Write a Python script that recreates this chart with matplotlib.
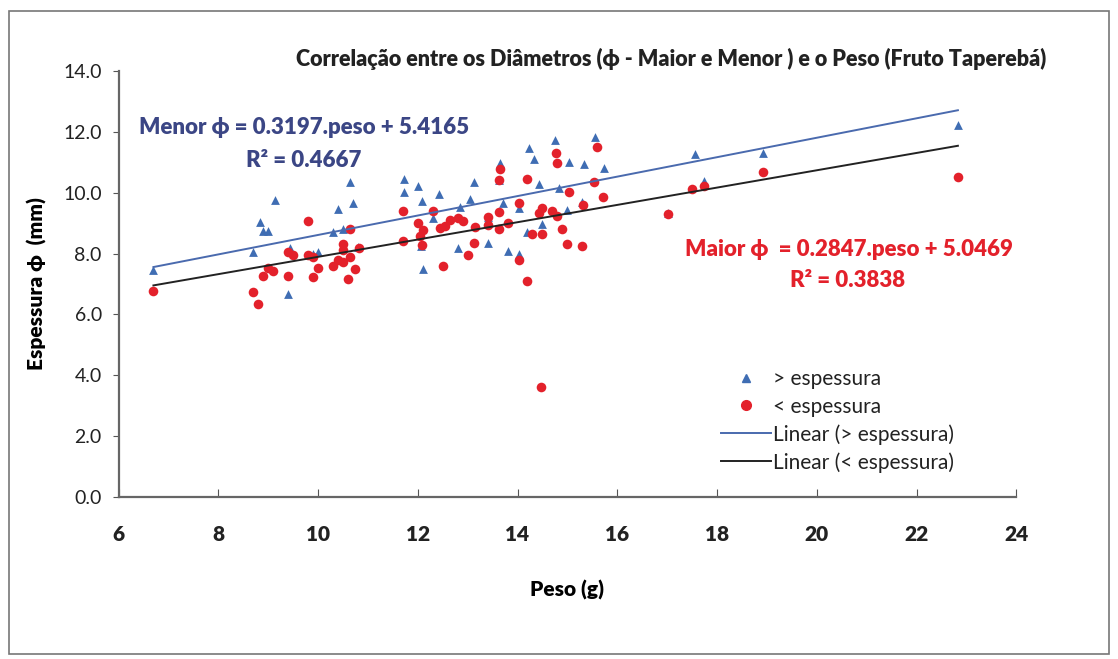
import matplotlib
matplotlib.use("Agg")
import matplotlib.pyplot as plt
from matplotlib.lines import Line2D
from matplotlib.patches import Rectangle
import numpy as np

plt.rcParams['font.family'] = ['Lato', 'DejaVu Sans']

# ---- data: > espessura (Menor) ----
maior_esp_x = [6.7, 8.83, 8.9, 9.0, 9.13, 8.7, 9.4, 9.43, 9.9, 10.0, 10.64, 10.7, 10.4, 10.3,
               10.5, 10.8, 11.72, 11.72, 12.0, 12.1, 12.08, 12.06, 12.43, 13.13, 13.05, 12.8,
               12.3, 12.85, 13.4, 13.4, 14.23, 14.33, 15.04, 15.34, 15.74, 14.43, 14.84, 13.7,
               14.03, 15.0, 14.5, 14.2, 15.3, 17.55, 18.93, 22.83, 17.73,
               13.65, 13.63, 14.76, 15.56, 13.8, 14.03, 17.02]
maior_esp_y = [7.45, 9.03, 8.76, 8.76, 9.76, 8.06, 6.67, 8.2, 7.98, 8.05, 10.37, 9.67, 9.47, 8.7,
               8.8, 8.21, 10.46, 10.03, 10.24, 7.5, 9.73, 8.24, 9.97, 10.36, 9.79, 8.18,
               9.17, 9.52, 9.2, 8.35, 11.48, 11.1, 11.0, 10.95, 10.82, 10.3, 10.17, 9.65,
               9.5, 9.45, 8.98, 8.7, 9.7, 11.29, 11.32, 12.24, 10.4,
               10.97, 10.43, 11.73, 11.85, 8.1, 8.0, 9.35]

# ---- data: < espessura (Maior) ----
menor_esp_x = [6.7, 9.8, 8.7, 8.8, 8.9, 9.0, 9.1, 9.4, 9.4, 9.5, 9.8, 9.9, 9.9, 10.0, 10.3,
               10.4, 10.5, 10.5, 10.5, 10.6, 10.74, 10.64, 10.64, 10.82, 11.7, 11.7, 12.0,
               12.1, 12.05, 12.3, 12.08, 12.45, 12.55, 12.65, 12.8, 12.9, 13.15, 13.13, 13.0,
               12.5, 13.4, 13.4, 13.63, 13.63, 13.8, 14.03, 14.2, 14.43, 14.5, 14.7, 14.8,
               14.9, 14.3, 14.5, 15.0, 15.3, 14.2, 14.47, 15.04, 15.54, 15.72, 15.32, 17.5,
               17.74, 18.93, 22.83,
               13.65, 13.63, 14.78, 14.8, 15.6, 14.03, 17.02]
menor_esp_y = [6.78, 9.06, 6.73, 6.33, 7.27, 7.54, 7.44, 7.27, 8.04, 7.97, 7.95, 7.88, 7.22,
               7.52, 7.6, 7.8, 7.73, 8.3, 8.13, 7.17, 7.5, 7.9, 8.8, 8.2, 9.4, 8.4, 9.0,
               8.77, 8.57, 9.41, 8.27, 8.84, 8.91, 9.12, 9.18, 9.08, 8.86, 8.36, 7.96,
               7.58, 9.2, 8.93, 9.37, 8.8, 9.0, 9.65, 10.45, 9.32, 9.5, 9.4, 9.23,
               8.8, 8.65, 8.65, 8.3, 8.25, 7.1, 3.6, 10.03, 10.35, 9.85, 9.6, 10.12,
               10.23, 10.7, 10.51,
               10.77, 10.43, 11.3, 10.97, 11.5, 7.8, 9.3]

# trend-line coefficients (slope, intercept) as printed on the chart
menor_fit = [0.3197, 5.4165]
maior_fit = [0.2847, 5.0469]

x_ticks = [6, 8, 10, 12, 14, 16, 18, 20, 22, 24]
y_ticks = [0.0, 2.0, 4.0, 6.0, 8.0, 10.0, 12.0, 14.0]

blue = '#3F6DB3'
red = '#E3212B'
navy = '#3B4685'

fig = plt.figure(figsize=(11.18, 6.59), dpi=100)
ax = fig.add_axes([0.106, 0.246, 0.803, 0.646])

ax.scatter(maior_esp_x, maior_esp_y, marker='^', s=40, color=blue, zorder=3, linewidths=0)
ax.scatter(menor_esp_x, menor_esp_y, marker='o', s=48, color=red, zorder=3, linewidths=0)

xs = np.array([min(maior_esp_x), max(maior_esp_x)])
ax.plot(xs, menor_fit[0] * xs + menor_fit[1], color='#4A6AAE', lw=1.4, zorder=4)
xs2 = np.array([min(menor_esp_x), max(menor_esp_x)])
ax.plot(xs2, maior_fit[0] * xs2 + maior_fit[1], color='#222222', lw=1.4, zorder=4)

ax.set_xlim(x_ticks[0], x_ticks[-1])
ax.set_ylim(y_ticks[0], y_ticks[-1])
ax.set_xticks(x_ticks)
ax.set_yticks(y_ticks)
ax.set_xticklabels([str(t) for t in x_ticks], fontsize=15, fontweight='heavy', color='#222222')
ax.set_yticklabels([f"{t:.1f}" for t in y_ticks], fontsize=14, color='#222222')
ax.tick_params(axis='x', direction='in', length=6, pad=20, color='#555555')
ax.tick_params(axis='y', direction='out', length=4, pad=8, color='#555555')
for s in ['top', 'right']:
    ax.spines[s].set_visible(False)
for s in ['left', 'bottom']:
    ax.spines[s].set_color('#666666')
    ax.spines[s].set_linewidth(1.6)

ax.set_xlabel('Peso (g)', fontsize=15, fontweight='heavy', labelpad=26)
ax.set_ylabel('Espessura \u03d5  (mm)', fontsize=15, fontweight='heavy', labelpad=12)

fig.text(0.60, 0.911, 'Correlação entre os Diâmetros (\u03d5 - Maior e Menor ) e o Peso (Fruto Taperebá)',
         ha='center', va='center', fontsize=15.5, fontweight='heavy', color='#222222')

fig.text(0.124, 0.806, 'Menor \u03d5 = 0.3197.peso + 5.4165', ha='left', va='center',
         fontsize=16, fontweight='heavy', color=navy)
fig.text(0.22, 0.757, 'R\u00b2 = 0.4667', ha='left', va='center',
         fontsize=16, fontweight='heavy', color=navy)
fig.text(0.613, 0.622, 'Maior \u03d5  = 0.2847.peso + 5.0469', ha='left', va='center',
         fontsize=16, fontweight='heavy', color=red)
fig.text(0.707, 0.575, 'R\u00b2 = 0.3838', ha='left', va='center',
         fontsize=16, fontweight='heavy', color=red)

handles = [
    Line2D([], [], marker='^', color=blue, linestyle='none', markersize=6),
    Line2D([], [], marker='o', color=red, linestyle='none', markersize=7),
    Line2D([], [], color='#4A6AAE', lw=1.4),
    Line2D([], [], color='#222222', lw=1.4),
]
labels = ['> espessura', '< espessura', 'Linear (> espessura)', 'Linear (< espessura)']
leg = fig.legend(handles, labels, loc='upper left', bbox_to_anchor=(0.645, 0.440),
                 frameon=False, fontsize=15, handlelength=2.4, handletextpad=0.1,
                 labelspacing=0.36, borderpad=0, borderaxespad=0)
for t in leg.get_texts():
    t.set_color('#222222')

fig.patches.append(Rectangle((0.008, 0.008), 0.984, 0.975, transform=fig.transFigure,
                             fill=False, edgecolor='#777777', lw=1.2))

fig.savefig('out.png', dpi=100)
